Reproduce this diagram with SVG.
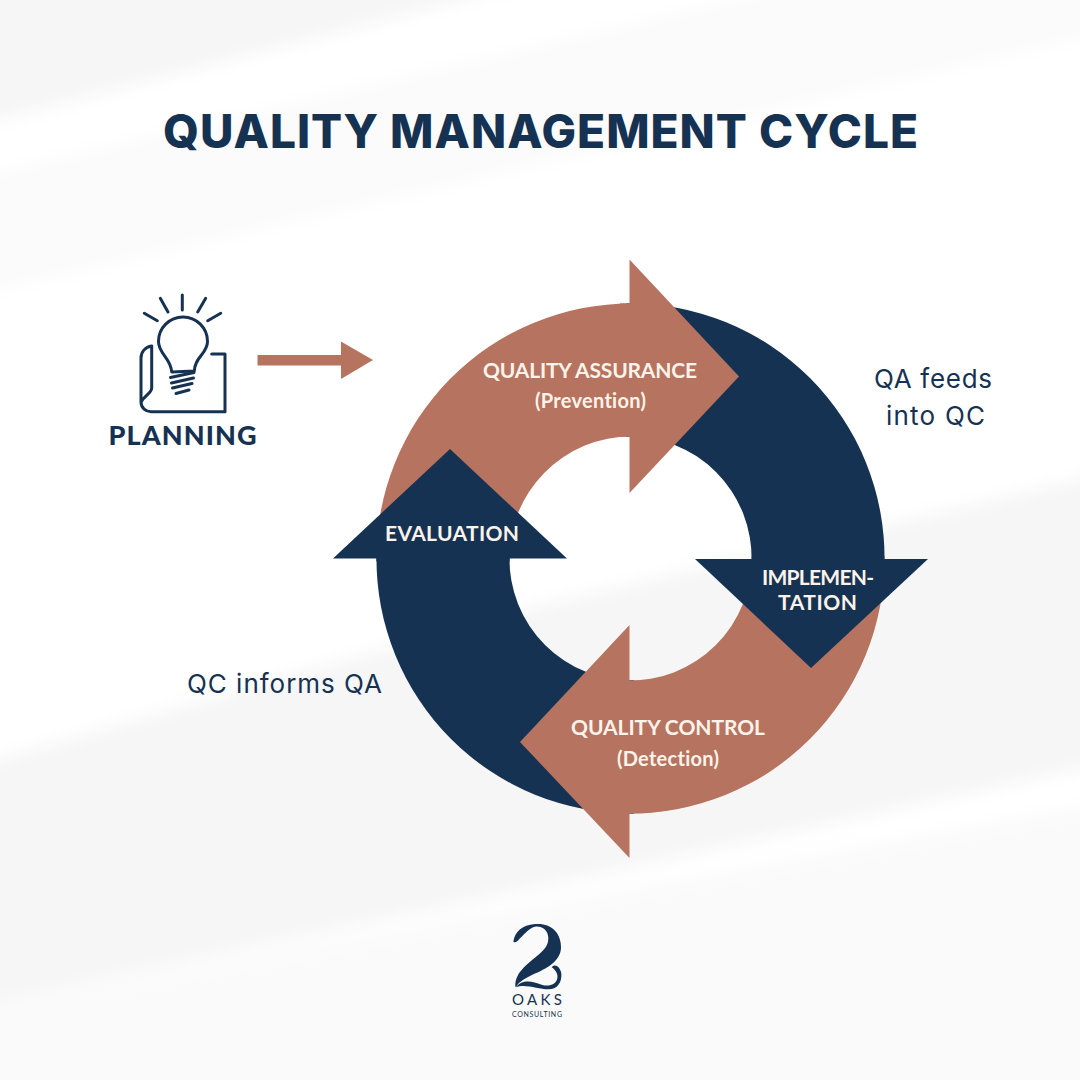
<svg xmlns="http://www.w3.org/2000/svg" width="1080" height="1080" viewBox="0 0 1080 1080">
<style>
.navy{fill:#163253}.brown{fill:#b67460}
.lbl{font-family:"Lato","Noto Sans",sans-serif;font-weight:700;fill:#fdf3ea;text-anchor:middle;font-variant-ligatures:none}
.note{font-family:"Inter","Noto Sans",sans-serif;font-size:26px;fill:#163253}
.ln{fill:none;stroke:#163253;stroke-width:3;stroke-linecap:round;stroke-linejoin:round}
</style>
<defs><filter id="b" x="-20%" y="-50%" width="140%" height="200%"><feGaussianBlur stdDeviation="9"/></filter></defs>
<g id="background">
<rect width="1080" height="1080" fill="#ffffff"/>
<g filter="url(#b)" fill="#f6f6f6">
<polygon points="-40,-40 620,-40 -40,130"/>
<polygon points="-40,180 900,-40 1120,-40 1120,30 -40,300" fill="#fbfbfb"/>
<polygon points="-40,770 520,610 1120,470 1120,760 620,870 -40,1010"/>
<polygon points="-40,1010 1120,800 1120,1120 -40,1120" fill="#fafafa"/>
</g>
</g>
<g id="title"><text x="163" y="148" textLength="755" lengthAdjust="spacing" font-family="Inter,sans-serif" font-weight="800" font-size="46" fill="#163253">QUALITY MANAGEMENT CYCLE</text></g>
<g id="connectors">
<path class="brown" d="M257.500 355H341V341.500L373 360 341 379V365.500H257.500Z"/>
</g>
<g id="cycle-arcs">
<path class="brown" d="M376.500 562A254.500 254.500 0 0 1 632 303.500V436.500A121.500 121.500 0 0 0 509.500 562Z"/>
<path class="brown" d="M884.500 556A254.500 254.500 0 0 1 626 813.500V680.500A121.500 121.500 0 0 0 751.500 556Z"/>
<path class="navy" d="M626 303.500A254.500 254.500 0 0 1 884.500 562H751.500A121.500 121.500 0 0 0 626 436.500Z"/>
<path class="navy" d="M634 813.500A254.500 254.500 0 0 1 376.500 556H509.500A121.500 121.500 0 0 0 634 680.500Z"/>
<path class="brown" d="M626 813.500A254.500 254.500 0 0 0 700 803L650 680A121.500 121.500 0 0 1 626 680.500Z"/>
</g>
<g id="quality-assurance">
<polygon class="brown" points="629.500,259.500 739,376.500 629.500,493"/>
<rect class="brown" x="620" y="303.300" width="10" height="133.400"/>
<text class="lbl" x="590" y="378" font-size="21" textLength="214" lengthAdjust="spacing">QUALITY ASSURANCE</text>
<text class="lbl" x="590.500" y="408" font-size="20" textLength="111" lengthAdjust="spacing">(Prevention)</text>
</g>
<g id="implementation">
<polygon class="navy" points="695,559 928,559 811,668"/>
<text class="lbl" x="818" y="585" font-size="21" textLength="112" lengthAdjust="spacing">IMPLEMEN-</text>
<text class="lbl" x="817.500" y="610" font-size="21" textLength="79" lengthAdjust="spacing">TATION</text>
</g>
<g id="quality-control">
<polygon class="brown" points="629.500,625 629.500,858 520,742"/>
<text class="lbl" x="668" y="735" font-size="21" textLength="194" lengthAdjust="spacing">QUALITY CONTROL</text>
<text class="lbl" x="668" y="766" font-size="20" textLength="102" lengthAdjust="spacing">(Detection)</text>
</g>
<g id="evaluation">
<polygon class="navy" points="333,558.500 567,558.500 450,449"/>
<rect class="navy" x="376.500" y="555" width="133" height="6"/>
<text class="lbl" x="452" y="541" font-size="21" textLength="134" lengthAdjust="spacing">EVALUATION</text>
</g>
<g id="planning">
<path class="ln" d="M182.300 295V310M160.300 298.300L168 312M205.700 298.300L197.700 312M144.300 313.300L157.300 320.700M220.700 313.300L207.700 320.700"/>
<path class="ln" d="M171.700 372C171 358 158.500 354 158.500 341.500A24.500 24.500 0 1 1 207.500 341.500C207.500 354 195 356 194.300 371Z"/>
<path class="ln" d="M170.500 377.500L194 372.500M171.500 383L193.500 378M172.500 388L192 383.500M176 393.500L189 390"/>
<path class="ln" d="M151.700 346C145 347 141 352 141 358V402C141 408 146 411.700 151 411.700H225V354H211.700M151.700 346V388C151.700 393 145 395 141 402"/>
<text x="182.500" y="445" text-anchor="middle" textLength="148" lengthAdjust="spacing" font-family="Lato,sans-serif" font-weight="900" font-size="27" fill="#163253">PLANNING</text>
</g>
<g id="notes">
<text class="note" x="874" y="388" textLength="118" lengthAdjust="spacing">QA feeds</text>
<text class="note" x="886" y="425" textLength="99" lengthAdjust="spacing">into QC</text>
<text class="note" x="187" y="693" textLength="195" lengthAdjust="spacing">QC informs QA</text>
</g>
<g id="logo">
<g transform="translate(480 910) scale(.3333)" class="navy">
<path d="M100 95C105 65 125 45 165 42C215 38 245 70 243 115C240 160 190 180 150 198C130 208 115 218 107 232C103 220 110 195 125 180C160 140 205 125 205 85C205 60 185 47 165 50C150 52 135 70 120 85C112 95 105 100 100 95Z"/>
<path d="M107 232C125 208 155 212 185 224C205 231 228 225 232 205C235 195 228 180 215 172C225 160 240 170 244 190C246 215 235 238 205 238C175 238 135 220 107 232Z"/>
</g>
<text x="512" y="1005" textLength="50" lengthAdjust="spacing" font-family="Lato,sans-serif" font-size="15" fill="#163253">OAKS</text>
<text x="512" y="1017" textLength="50" lengthAdjust="spacing" font-family="Lato,sans-serif" font-size="7" fill="#163253">CONSULTING</text>
</g>
</svg>
